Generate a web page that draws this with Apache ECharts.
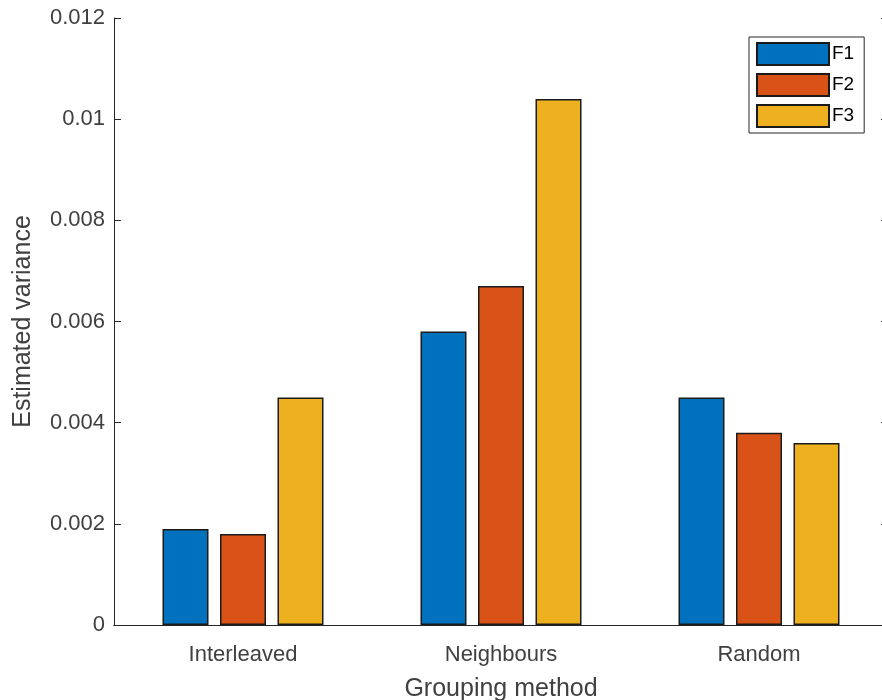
<!DOCTYPE html>
<html>
<head>
<meta charset="utf-8">
<script src="https://cdn.jsdelivr.net/npm/echarts@6/dist/echarts.min.js"></script>
<style>html,body{margin:0;padding:0;background:#fff;}#c{width:882px;height:700px;}</style>
</head>
<body>
<div id="c"></div>
<script>
const categories = ['Interleaved', 'Neighbours', 'Random'];
const seriesNames = ['F1', 'F2', 'F3'];
const f1 = [0.0019, 0.0058, 0.0045];
const f2 = [0.0018, 0.0067, 0.0038];
const f3 = [0.0045, 0.0104, 0.0036];
const yTicks = ['0', '0.002', '0.004', '0.006', '0.008', '0.01', '0.012'];
const colors = ['#0072BD', '#D95319', '#EDB120'];

const axisColor = '#262626';
const textColor = '#404040';
const font = 'Liberation Sans, Arial, Helvetica, sans-serif';

const chart = echarts.init(document.getElementById('c'), null, {renderer: 'canvas'});
const values = [f1, f2, f3];
chart.setOption({
  animation: false,
  backgroundColor: '#ffffff',
  grid: {left: 114, right: -6, top: 18, bottom: 75, containLabel: false, outerBoundsMode: 'none'},
  legend: {
    orient: 'vertical',
    left: 749, top: 37,
    icon: 'rect',
    itemWidth: 72, itemHeight: 22, itemGap: 7,
    padding: [5, 10, 5, 7],
    borderColor: '#262626', borderWidth: 1, backgroundColor: '#fff',
    textStyle: {fontFamily: font, fontSize: 19, color: '#000', padding: [0, 0, 0, -2]},
    data: seriesNames
  },
  xAxis: [{
    type: 'category', data: categories, position: 'bottom',
    axisLine: {lineStyle: {color: axisColor, width: 1}},
    axisTick: {inside: true, alignWithLabel: true, length: 7, lineStyle: {color: axisColor}},
    axisLabel: {fontFamily: font, fontSize: 22, color: textColor, margin: 19},
    name: 'Grouping method', nameLocation: 'middle', nameGap: 52,
    nameTextStyle: {fontFamily: font, fontSize: 25, color: textColor}
  }, {
    type: 'category', data: categories, position: 'top',
    axisLine: {lineStyle: {color: axisColor, width: 1}},
    axisTick: {inside: true, alignWithLabel: true, length: 7, lineStyle: {color: axisColor}},
    axisLabel: {show: false}
  }],
  yAxis: [{
    type: 'value', min: 0, max: 0.012, interval: 0.002, position: 'left',
    axisLine: {show: true, lineStyle: {color: axisColor, width: 1}},
    axisTick: {show: true, inside: true, length: 7, lineStyle: {color: axisColor}},
    splitLine: {show: false},
    axisLabel: {fontFamily: font, fontSize: 22, color: textColor, margin: 9,
      formatter: function (v) { return yTicks[Math.round(v / 0.002)]; }},
    name: 'Estimated variance', nameLocation: 'middle', nameGap: 78,
    nameTextStyle: {fontFamily: font, fontSize: 25, color: textColor}
  }, {
    type: 'value', min: 0, max: 0.012, interval: 0.002, position: 'right',
    axisLine: {show: true, lineStyle: {color: axisColor, width: 1}},
    axisTick: {show: true, inside: true, length: 7, lineStyle: {color: axisColor}},
    splitLine: {show: false},
    axisLabel: {show: false}
  }],
  series: seriesNames.map(function (n, i) {
    return {
      name: n, type: 'bar', xAxisIndex: 0, yAxisIndex: 0,
      data: values[i], barWidth: 46, barGap: '25%',
      itemStyle: {color: colors[i], borderColor: '#1a1a1a', borderWidth: 1.5}
    };
  })
});
</script>
</body>
</html>
